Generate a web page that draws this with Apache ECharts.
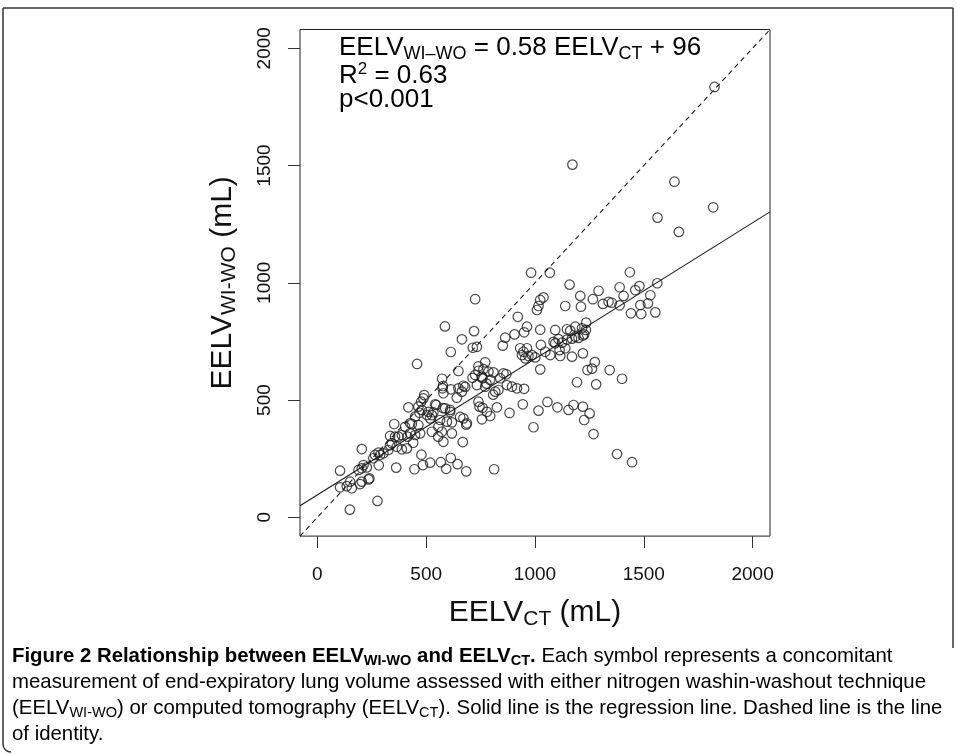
<!DOCTYPE html>
<html>
<head>
<meta charset="utf-8">
<script src="https://cdn.jsdelivr.net/npm/echarts@6/dist/echarts.min.js"></script>
<style>
html,body{margin:0;padding:0;background:#fff;}
#chart{width:957px;height:754px;}
</style>
</head>
<body>
<div id="chart"></div>
<script>
// ---- data ----
const eelvCT = [
 1825,1172,1641,1819,1563,1661,982,1068,1436,
 1159,1208,1292,1389,1461,1480,1562,1407,1530,1024,1039,1009,1016,1139,1211,1266,1312,1338,1353,1389,1484,1519,1441,1488,1553,725,921,
 1235,1147,1162,1185,1216,1234,1093,1024,963,950,906,863,852,720,586,664,
 1085,1108,1124,1147,1170,1185,1200,1220,1226,1093,1027,
 714,733,613,947,963,940,970,1001,932,955,986,1047,1070,1113,1116,1139,1170,1220,
 458,648,771,740,763,786,809,725,756,794,855,868,840,740,713,759,573,1024,1241,1262,1275,1343,1400,1193,1281,950,
 733,771,871,894,917,832,817,577,613,575,648,671,664,679,579,641,777,808,491,487,477,
 740,759,745,779,756,794,825,883,944,1016,1057,1103,1154,1177,1220,1251,1226,993,1269,1377,1446,
 418,469,464,480,510,526,518,503,533,546,541,577,587,610,610,618,656,671,684,687,564,595,556,
 449,426,403,464,434,353,472,449,426,388,372,334,357,414,526,555,572,618,579,668,440,
 342,365,388,411,326,303,281,265,257,288,334,204,478,446,485,518,567,592,613,644,684,362,812,
 282,212,204,189,227,104,239,204,196,150,135,158,104,235,276,149
];
const eelvWIWO = [
 1835,1504,1431,1322,1278,1217,1043,1043,1045,
 992,944,966,981,969,986,998,944,947,927,938,884,901,901,898,930,910,919,915,904,905,912,870,867,874,930,855,
 830,802,796,813,806,799,799,800,813,789,780,766,732,794,814,759,
 748,760,745,758,762,770,765,775,780,742,735,
 723,727,705,706,721,692,688,682,721,678,692,706,692,713,688,721,685,699,
 654,624,661,644,632,621,618,607,600,586,614,610,593,625,595,593,591,631,628,634,662,628,591,576,567,548,
 564,557,564,557,550,543,536,560,546,550,550,561,536,556,529,510,570,523,521,507,493,
 493,467,472,450,418,432,469,445,482,455,492,469,458,479,472,443,415,384,355,270,235,
 469,446,472,458,450,436,422,436,448,479,482,466,465,458,450,405,428,422,395,401,415,408,386,
 429,401,386,394,398,398,358,351,358,351,344,347,344,344,365,344,365,358,322,321,318,
 316,301,290,294,287,273,276,266,252,266,308,291,267,205,223,233,235,207,253,227,196,212,205,
 222,223,209,202,213,199,166,152,142,152,133,124,128,162,70,33
];
const tickValues = [0, 500, 1000, 1500, 2000];
const axisMin = -80;
const axisMax = 2080;
const regSlope = 0.58;
const regIntercept = 96;

// ---- styles ----
const FONT = '"Liberation Sans", Arial, Helvetica, sans-serif';
const CAP_FONT = '"Liberation Sans Narrow", "Liberation Sans", Arial, sans-serif';
const INK = '#111';

const points = eelvCT.map((x, i) => [x, eelvWIWO[i]]);
const regLine = [axisMin, axisMax].map(x => [x, regSlope * x + regIntercept]);
const idLine = [axisMin, axisMax].map(x => [x, x]);

// caption: fit condensed text width like the reference
const CAP_SIZE = 21;
const capCtx = document.createElement('canvas').getContext('2d');
capCtx.font = CAP_SIZE + 'px ' + CAP_FONT;
const capRefW = capCtx.measureText('measurement of end-expiratory lung volume assessed with either nitrogen washin-washout technique').width;
const capScale = 914 / capRefW;

const capRich = {
  b:  {fontFamily: CAP_FONT, fontSize: CAP_SIZE, fontWeight: 'bold', color: '#000', lineHeight: 24},
  bs: {fontFamily: CAP_FONT, fontSize: 15, fontWeight: 'bold', color: '#000', lineHeight: 12, verticalAlign: 'bottom'},
  n:  {fontFamily: CAP_FONT, fontSize: CAP_SIZE, color: '#222', lineHeight: 24},
  ns: {fontFamily: CAP_FONT, fontSize: 15, color: '#222', lineHeight: 12, verticalAlign: 'bottom'}
};
const capLines = [
  '{b|Figure 2 Relationship between EELV}{bs|WI-WO}{b| and EELV}{bs|CT}{b|.}{n| Each symbol represents a concomitant}',
  '{n|measurement of end-expiratory lung volume assessed with either nitrogen washin-washout technique}',
  '{n|(EELV}{ns|WI-WO}{n|) or computed tomography (EELV}{ns|CT}{n|). Solid line is the regression line. Dashed line is the line}',
  '{n|of identity.}'
];
const capY = [656, 682, 708, 734];

const annRich = {
  m:   {fontFamily: FONT, fontSize: 26, color: INK, lineHeight: 30},
  sub: {fontFamily: FONT, fontSize: 18, color: INK, lineHeight: 18, verticalAlign: 'bottom'},
  sup: {fontFamily: FONT, fontSize: 17, color: INK, lineHeight: 10, verticalAlign: 'top'}
};
const annLines = [
  {text: '{m|EELV}{sub|WI\u2013WO}{m| = 0.58 EELV}{sub|CT}{m| + 96}', y: 47.7},
  {text: '{m|R}{sup|2}{m| = 0.63}', y: 76},
  {text: '{m|p<0.001}', y: 100.3}
];

const graphics = [];
annLines.forEach(l => graphics.push({
  type: 'text', x: 339, y: l.y, silent: true, z: 10,
  style: {text: l.text, rich: annRich, verticalAlign: 'middle', align: 'left'}
}));
capLines.forEach((t, i) => graphics.push({
  type: 'text', x: 12, y: capY[i], scaleX: capScale, silent: true,
  style: {text: t, rich: capRich, verticalAlign: 'middle', align: 'left'}
}));
// figure frame
graphics.push({type: 'line', silent: true, shape: {x1: 3, y1: 8, x2: 953, y2: 8}, style: {stroke: '#333', lineWidth: 1.5}});
graphics.push({type: 'line', silent: true, shape: {x1: 953, y1: 8, x2: 953, y2: 648}, style: {stroke: '#333', lineWidth: 1.5}});
graphics.push({type: 'line', silent: true, shape: {x1: 3, y1: 8, x2: 3, y2: 744}, style: {stroke: '#333', lineWidth: 1.5}});
graphics.push({type: 'arc', silent: true, shape: {cx: 11, cy: 744, r: 8, startAngle: Math.PI / 2, endAngle: Math.PI, clockwise: true}, style: {stroke: '#333', lineWidth: 1.5, fill: null}});

const plain = v => String(v);

const chart = echarts.init(document.getElementById('chart'), null, {renderer: 'canvas'});
chart.setOption({
  animation: false,
  backgroundColor: '#fff',
  grid: {left: 300, top: 29.5, width: 470, height: 506.6, show: true, borderColor: '#222', borderWidth: 1, backgroundColor: 'transparent'},
  xAxis: {
    type: 'value', min: axisMin, max: axisMax,
    splitLine: {show: false},
    axisLine: {show: false, onZero: false},
    axisTick: {show: true, inside: false, customValues: tickValues, length: 12, lineStyle: {color: '#333', width: 1}},
    axisLabel: {customValues: tickValues, formatter: plain, fontSize: 19, fontFamily: FONT, color: INK, margin: 29},
    name: 'EELV{sub|CT} (mL)', nameLocation: 'middle', nameGap: 60,
    nameTextStyle: {fontSize: 30, fontFamily: FONT, color: INK, lineHeight: 34,
      rich: {sub: {fontSize: 21, fontFamily: FONT, color: INK, lineHeight: 20, verticalAlign: 'bottom'}}}
  },
  yAxis: {
    type: 'value', min: axisMin, max: axisMax,
    splitLine: {show: false},
    axisLine: {show: false, onZero: false},
    axisTick: {show: true, inside: false, customValues: tickValues, length: 12, lineStyle: {color: '#333', width: 1}},
    axisLabel: {customValues: tickValues, formatter: plain, fontSize: 19, fontFamily: FONT, color: INK, margin: 26, rotate: 90},
    name: 'EELV{sub|WI-WO} (mL)', nameLocation: 'middle', nameGap: 60, nameRotate: 90,
    nameTextStyle: {fontSize: 30, fontFamily: FONT, color: INK, lineHeight: 34,
      rich: {sub: {fontSize: 21, fontFamily: FONT, color: INK, lineHeight: 20, verticalAlign: 'bottom'}}}
  },
  graphic: graphics,
  series: [
    {
      type: 'scatter', data: points, symbol: 'circle', symbolSize: 9.5, silent: true, z: 3,
      itemStyle: {color: 'rgba(0,0,0,0)', borderColor: '#1a1a1a', borderWidth: 1.2}
    },
    {
      type: 'line', data: regLine, symbol: 'none', silent: true, z: 2,
      lineStyle: {color: '#1a1a1a', width: 1.1, type: 'solid'}
    },
    {
      type: 'line', data: idLine, symbol: 'none', silent: true, z: 2,
      lineStyle: {color: '#1a1a1a', width: 1.1, type: [5, 4]}
    }
  ]
});
</script>
</body>
</html>
